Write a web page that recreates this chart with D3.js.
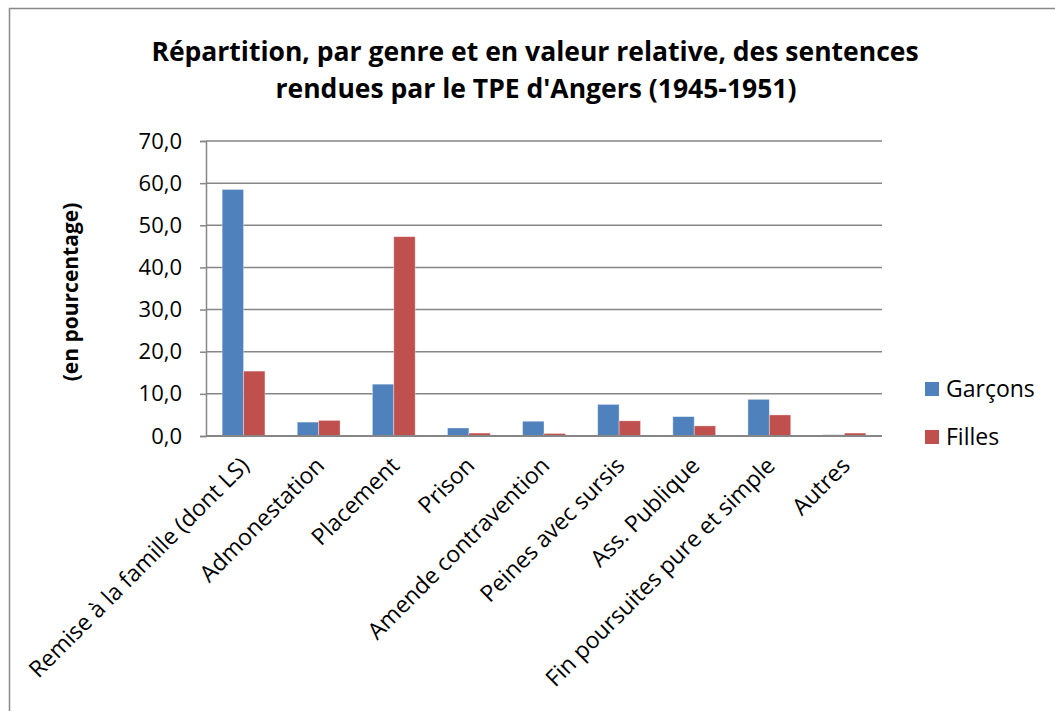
<!DOCTYPE html>
<html>
<head>
<meta charset="utf-8">
<script src="https://cdn.jsdelivr.net/npm/d3@7"></script>
<style>
  body { margin: 0; background: #fff; }
  text { font-family: "Open Sans", sans-serif; fill: #000; }
</style>
</head>
<body>
<div id="chart"></div>
<script>
let categories = ["Remise à la famille (dont LS)", "Admonestation", "Placement", "Prison",
    "Amende contravention", "Peines avec sursis", "Ass. Publique",
    "Fin poursuites pure et simple", "Autres"];
let garcons = [58.5, 3.3, 12.3, 1.9, 3.5, 7.5, 4.6, 8.7, 0.3];
let filles = [15.4, 3.7, 47.3, 0.7, 0.6, 3.6, 2.4, 5.0, 0.7];
let seriesNames = ["Garçons", "Filles"];
let yTicks = [0, 10, 20, 30, 40, 50, 60, 70];

let width = 1055,
    height = 711;

let colors = ["#4F81BD", "#C0504D"];

let svg = d3.select("#chart").append("svg")
    .attr("width", width)
    .attr("height", height);

// outer frame (runs off the right and bottom of the picture)
svg.append("rect")
    .attr("x", 9.5).attr("y", 8.5)
    .attr("width", 1100).attr("height", 800)
    .attr("fill", "none")
    .attr("stroke", "#888")
    .attr("stroke-width", 1.5);

let x0 = d3.scaleBand()
    .domain(categories)
    .range([206, 882])
    .paddingInner(0.43)
    .paddingOuter(0.215);

let x1 = d3.scaleBand()
    .domain(seriesNames)
    .range([0, x0.bandwidth()]);

let y = d3.scaleLinear()
    .domain([0, 70])
    .range([436, 141]);

// gridlines
svg.append("g")
  .selectAll("line")
  .data(yTicks.slice(1))
  .enter().append("line")
    .attr("x1", 206).attr("x2", 882)
    .attr("y1", d => y(d)).attr("y2", d => y(d))
    .attr("stroke", "#868686")
    .attr("stroke-width", 1.5);

let yAxis = svg.append("g")
    .attr("transform", "translate(206,0)")
    .call(d3.axisLeft(y).tickValues(yTicks).tickSize(6).tickPadding(18)
        .tickFormat(d => d3.format(".1f")(d).replace(".", ",")));
yAxis.select(".domain").attr("stroke", "#868686").attr("stroke-width", 1.5);
yAxis.selectAll(".tick line").attr("stroke", "#868686").attr("stroke-width", 1.5);
yAxis.selectAll(".tick text")
    .style("font-family", "Open Sans")
    .style("font-size", "22px")
    .attr("fill", "#000");

let data = categories.map((c, i) => ({cat: c, values: [garcons[i], filles[i]]}));

svg.append("g")
  .selectAll("g")
  .data(data)
  .enter().append("g")
    .attr("transform", d => "translate(" + x0(d.cat) + ",0)")
  .selectAll("rect")
  .data(d => d.values.map((v, j) => ({name: seriesNames[j], v: v, j: j})))
  .enter().append("rect")
    .attr("x", d => x1(d.name))
    .attr("width", x1.bandwidth())
    .attr("y", d => y(d.v))
    .attr("height", d => y(0) - y(d.v))
    .attr("fill", d => colors[d.j])
    .attr("stroke", "rgba(255,255,255,0.45)")
    .attr("stroke-width", 0.8);

// baseline
svg.append("line")
    .attr("x1", 206).attr("x2", 882)
    .attr("y1", y(0)).attr("y2", y(0))
    .attr("stroke", "#868686")
    .attr("stroke-width", 2);

// category labels
svg.append("g")
  .selectAll("text")
  .data(categories)
  .enter().append("text")
    .attr("transform", d => "translate(" + (x0(d) + x0.bandwidth() / 2 + 7) + ",467) rotate(-45)")
    .attr("text-anchor", "end")
    .style("font-size", "23px")
    .text(d => d);

// title
svg.append("text")
    .attr("x", 535).attr("y", 61)
    .attr("text-anchor", "middle")
    .style("font-size", "26.5px").style("font-weight", "bold")
    .text("Répartition, par genre et en valeur relative, des sentences");
svg.append("text")
    .attr("x", 536).attr("y", 98)
    .attr("text-anchor", "middle")
    .style("font-size", "26.5px").style("font-weight", "bold")
    .text("rendues par le TPE d'Angers (1945-1951)");

// y label
svg.append("text")
    .attr("transform", "translate(78,292) rotate(-90)")
    .attr("text-anchor", "middle")
    .style("font-size", "21px").style("font-weight", "bold")
    .text("(en pourcentage)");

// legend
let legend = svg.append("g")
  .selectAll("g")
  .data(seriesNames)
  .enter().append("g")
    .attr("transform", (d, i) => "translate(925," + (382 + i * 48) + ")");
legend.append("rect")
    .attr("width", 14).attr("height", 14)
    .attr("fill", (d, i) => colors[i]);
legend.append("text")
    .attr("x", 21).attr("y", 15)
    .style("font-size", "23px")
    .text(d => d);
</script>
</body>
</html>
